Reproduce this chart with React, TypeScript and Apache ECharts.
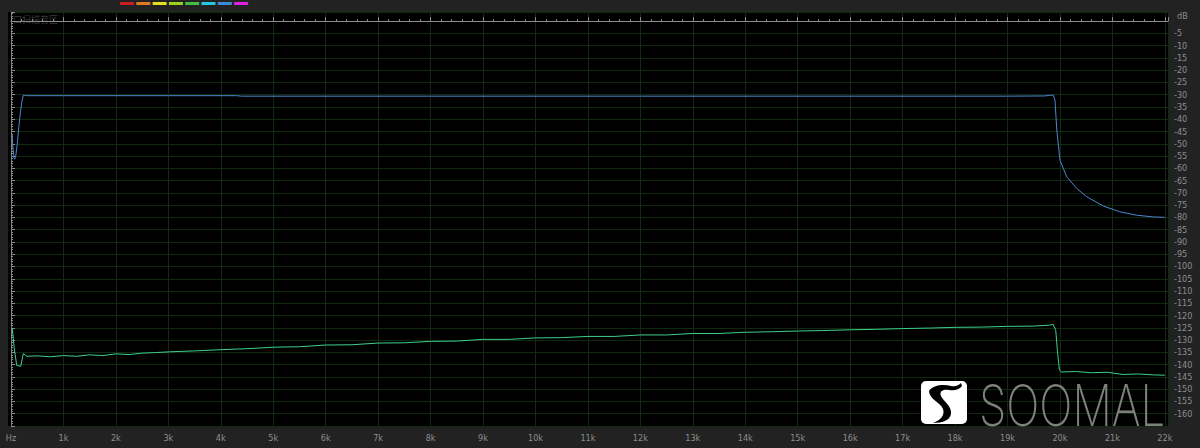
import React, { useEffect, useRef } from "react";
import * as echarts from "echarts";

// Blue trace (Hz, dB)
const blueFreq = [20, 35, 55, 70, 90, 120, 150, 180, 210, 235, 260, 300, 1000, 3000, 4300, 4400, 8000, 12000, 16000, 19000, 19700, 19800, 19870, 19905, 19940, 20000, 20130, 20320, 20510, 20830, 21140, 21460, 21780, 22000];
const blueDb = [-46, -51, -55.5, -56.3, -55, -50, -43, -37, -32.5, -30.2, -30.3, -30.4, -30.4, -30.4, -30.4, -30.6, -30.6, -30.6, -30.6, -30.6, -30.5, -30.3, -30.1, -32.2, -44.4, -56.7, -63.5, -68.2, -71.6, -75.4, -77.7, -79.1, -79.8, -80];

// Green trace (Hz, dB)
const greenFreq = [25, 60, 109, 185, 235, 300, 500, 750, 1000, 1250, 1500, 1750, 2000, 2250, 2500, 2750, 3000, 3500, 4000, 4500, 5000, 5500, 6000, 6500, 7000, 7500, 8000, 8500, 9000, 9500, 10000, 10500, 11000, 11500, 12000, 12500, 13000, 13500, 14000, 14500, 15000, 15500, 16000, 16500, 17000, 17500, 18000, 18500, 19000, 19500, 19800, 19870, 19920, 19950, 19990, 20030, 20300, 20600, 20900, 21200, 21500, 21800, 22000];
const greenDb = [-125.3, -133, -140.3, -140.7, -135.5, -136.6, -136.4, -136.8, -136.3, -136.6, -136.0, -136.3, -135.6, -135.9, -135.3, -135.1, -134.8, -134.4, -133.9, -133.5, -132.9, -132.7, -132.0, -131.9, -131.2, -131.1, -130.5, -130.4, -129.7, -129.7, -129.1, -129.0, -128.5, -128.5, -127.9, -127.9, -127.3, -127.3, -126.8, -126.6, -126.3, -126.1, -125.8, -125.6, -125.3, -125.1, -124.8, -124.7, -124.4, -124.3, -123.9, -123.6, -126.0, -134.1, -142.3, -143.0, -142.8, -143.3, -143.1, -144.0, -143.8, -144.2, -144.3];

const xTickKHz = [1, 2, 3, 4, 5, 6, 7, 8, 9, 10, 11, 12, 13, 14, 15, 16, 17, 18, 19, 20, 21, 22];
const legendColors = ["#c81e1e", "#e07a20", "#e6dc22", "#9ad020", "#44bb44", "#22c8e0", "#3a8ad8", "#e020e0"];

echarts.graphic.registerShape(
  "soomalS",
  echarts.graphic.extendPath(
    "M 8 10 C 12 4 22 3 30 5 C 35 6 38 4 40 2 L 41 5 C 38 9 33 10 28 9 C 22 8 18 10 20 15 C 23 21 31 25 30 33 C 29 39 22 42 12 42 C 20 39 24 34 22 28 C 20 22 8 18 8 10 Z",
    {}
  )
);

export default function App() {
  const ref = useRef<HTMLDivElement>(null);
  useEffect(() => {
    const chart = echarts.init(ref.current!, null, { renderer: "svg" });
    const blue = blueFreq.map((f, i) => [f, blueDb[i]]);
    const green = greenFreq.map((f, i) => [f, greenDb[i]]);
    const gridColor = "#0f2a0f";
    chart.setOption({
      animation: false,
      backgroundColor: "#222222",
      grid: { left: 11, right: 32, top: 12, bottom: 22, show: true, backgroundColor: "#000", borderWidth: 0 },
      xAxis: {
        type: "value",
        min: 0,
        max: 22060,
        interval: 1000,
        axisLine: { show: true, lineStyle: { color: "#8c8c8c", width: 1 } },
        axisTick: { show: true, inside: true, length: 4, lineStyle: { color: "#8c8c8c" } },
        minorTick: { show: true, splitNumber: 5, length: 2, lineStyle: { color: "#8c8c8c" } },
        splitLine: { show: true, lineStyle: { color: gridColor, width: 1 } },
        axisLabel: {
          color: "#8e8e8e",
          fontSize: 9,
          fontFamily: "DejaVu Sans Condensed, DejaVu Sans, sans-serif",
          margin: 7,
          showMaxLabel: false,
          formatter: (v: number) => {
            if (v === 0) return "Hz";
            const k = v / 1000;
            return xTickKHz.indexOf(k) >= 0 ? k + "k" : "";
          },
        },
      },
      yAxis: {
        type: "value",
        position: "right",
        min: -165,
        max: 3.7,
        interval: 5,
        axisLine: { show: true, lineStyle: { color: "#7a7a7a", width: 1 } },
        axisTick: { show: true, inside: false, length: 4, lineStyle: { color: "#8c8c8c" } },
        minorTick: { show: true, splitNumber: 5, length: 2, lineStyle: { color: "#8c8c8c" } },
        splitLine: { show: true, lineStyle: { color: gridColor, width: 1 } },
        axisLabel: {
          color: "#8e8e8e",
          fontSize: 9,
          fontFamily: "DejaVu Sans Condensed, DejaVu Sans, sans-serif",
          margin: 6,
          formatter: (v: number) => (v <= -5 && v >= -160 && Math.round(v) % 5 === 0 ? String(Math.round(v)) : ""),
        },
      },
      graphic: [
        { type: "rect", z: -1, shape: { x: 8, y: 12, width: 1160, height: 414 }, style: { fill: "#000" } },
        ...legendColors.map((c, i) => ({
          type: "rect",
          shape: { x: 120 + i * 16.3, y: 2, width: 14, height: 3 },
          style: { fill: c },
        })),
        { type: "text", x: 10, y: 15, style: { text: "-口扫描音区", fill: "#3a3a3a", fontSize: 9, fontFamily: "Noto Sans CJK SC, sans-serif" } },
        { type: "text", x: 1177, y: 11, style: { text: "dB", fill: "#8e8e8e", fontSize: 9, fontFamily: "DejaVu Sans Condensed, DejaVu Sans, sans-serif" } },
        { type: "rect", z: 100, shape: { x: 921, y: 381, width: 46, height: 43, r: 5 }, style: { fill: "#ffffff" } },
        { type: "soomalS", z: 101, x: 921, y: 381, scaleX: 1, scaleY: 1, style: { fill: "#000000" } },
        {
          type: "text",
          z: 100,
          x: 979,
          y: 377,
          scaleX: 0.77,
          style: { text: "SOOMAL", fill: "#7f7f7f", fontSize: 57, fontWeight: 200, fontFamily: "Inter, Lato, sans-serif" },
        },
      ],
      series: [
        { type: "line", data: blue, showSymbol: false, lineStyle: { color: "#4d86cf", width: 1 }, z: 3 },
        { type: "line", data: green, showSymbol: false, lineStyle: { color: "#3ccf8e", width: 1 }, z: 3 },
      ],
    });
    return () => chart.dispose();
  }, []);
  return <div ref={ref} style={{ position: "fixed", left: 0, top: 0, width: 1200, height: 448 }} />;
}
